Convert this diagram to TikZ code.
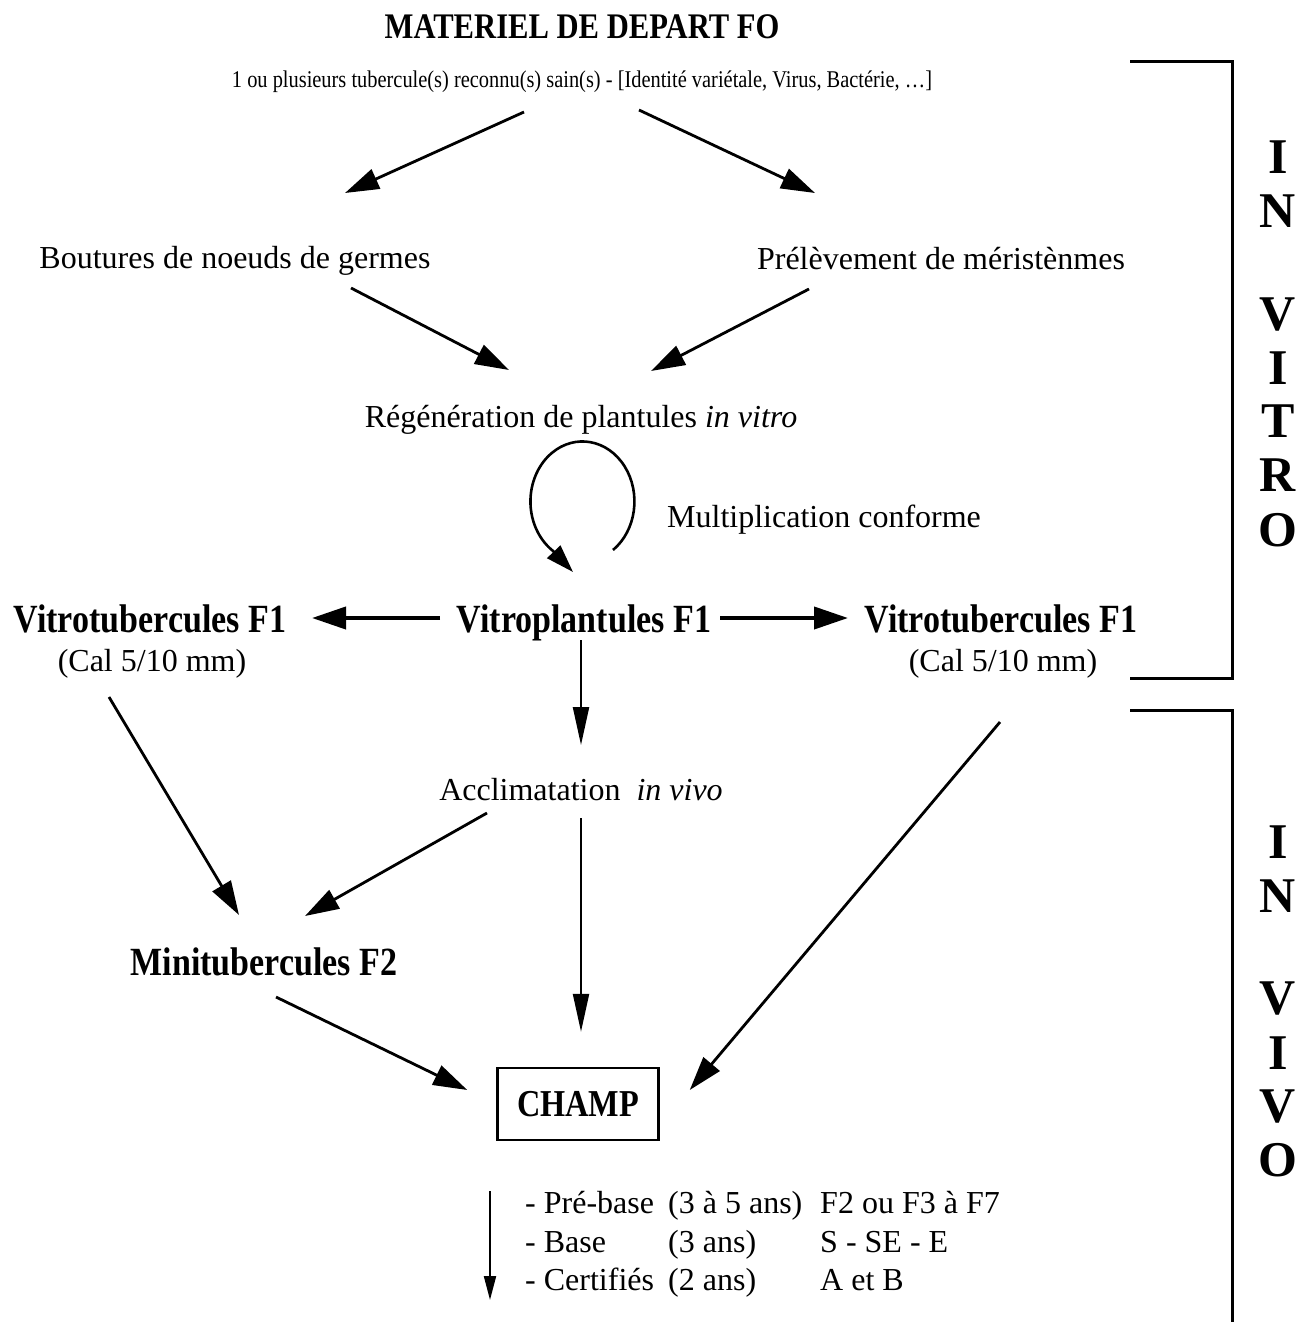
\documentclass[tikz,border=0pt]{standalone}
\usepackage{fontspec}
\setmainfont{Liberation Serif}
\newfontfamily\condfont{Liberation Serif}[FakeStretch=0.85]
\usetikzlibrary{
  arrows.meta,
  calc,
}

\tikzset{
  txt/.style={anchor=base, inner sep=0pt, font=\fontsize{32}{38}\selectfont},
  btxt/.style={anchor=base, inner sep=0pt, font=\condfont\bfseries\fontsize{40}{46}\selectfont},
  sidetxt/.style={inner sep=0pt, font=\bfseries\fontsize{50}{56}\selectfont},
  rowtxt/.style={anchor=base west, inner sep=0pt, font=\fontsize{32}{38}\selectfont},
  flow/.style={-{Triangle[length=34pt,width=21pt]}, line width=2.8pt},
  bigflow/.style={-{Triangle[length=34pt,width=22pt]}, line width=4pt},
  downflow/.style={-{Triangle[length=38pt,width=16pt]}, line width=2.2pt},
  bracket/.style={line width=3pt},
}

\begin{document}
\begin{tikzpicture}[x=1pt,y=-1pt]
\useasboundingbox (0,0) rectangle (1309,1322);

% texts
\node[btxt, font=\condfont\bfseries\fontsize{36}{42}\selectfont] (title) at (582,39) {MATERIEL DE DEPART FO};
\node[txt, font=\condfont\fontsize{24}{28}\selectfont] (sub) at (582,88)
  {1 ou plusieurs tubercule(s) reconnu(s) sain(s) - [Identité variétale, Virus, Bactérie, \dots]};
\node[txt] (bout) at (235,268) {Boutures de noeuds de germes};
\node[txt] (prel) at (941,269) {Prélèvement de méristènmes};
\node[txt] (regen) at (581,427) {Régénération de plantules \textit{in vitro}};
\node[txt] (multi) at (824,527) {Multiplication conforme};
\node[btxt] (vplant) at (584,632) {Vitroplantules F1};
\node[btxt] (vtubL) at (150,632) {Vitrotubercules F1};
\node[txt] (calL) at (152,671) {(Cal 5/10 mm)};
\node[btxt] (vtubR) at (1001,632) {Vitrotubercules F1};
\node[txt] (calR) at (1003,671) {(Cal 5/10 mm)};
\node[txt] (accl) at (581,800) {Acclimatation~ \textit{in vivo}};
\node[btxt] (mini) at (264,975) {Minitubercules F2};
\node[draw, line width=2.5pt, minimum width=161pt, minimum height=72pt,
  font=\condfont\bfseries\fontsize{38}{44}\selectfont] (champ) at (578,1104) {CHAMP};

% categories
\foreach \lab/\cat/\yr/\gen [count=\i] in {- Pré-base/(3 à 5 ans)/F2 ou F3 à F7/1213,
    - Base/(3 ans)/S - SE - E/1252, - Certifiés/(2 ans)/A et B/1290} {
  \node[rowtxt] (cat\i) at (525,\gen) {\lab};
  \node[rowtxt] (dur\i) at (668,\gen) {\cat};
  \node[rowtxt] (gen\i) at (820,\gen) {\yr};
}

% arrows
\draw[flow] ($(sub.base)+(-58,24)$) -- ($(bout.base)+(110,-75)$);
\draw[flow] ($(sub.base)+(57,22)$) -- ($(prel.base)+(-126,-76)$);
\draw[flow] ($(bout.base)+(116,20)$) -- ($(regen.base)+(-72,-57)$);
\draw[flow] ($(prel.base)+(-132,20)$) -- ($(regen.base)+(70,-56)$);
\draw[line width=2.6pt, -{Triangle[length=28pt,width=18pt]}]
  ($(regen.base)+(32,123)$) arc[start angle=54, end angle=-235, x radius=52, y radius=60]
  -- ($(vplant.base)+(-11,-60)$);
\draw[bigflow] ($(vplant.base)+(-144,-14)$) -- ($(vtubL.base)+(162,-14)$);
\draw[bigflow] ($(vplant.base)+(136,-14)$) -- ($(vtubR.base)+(-153,-14)$);
\draw[downflow] ($(vplant.base)+(-3,8)$) -- ($(accl.base)+(0,-55)$);
\draw[downflow] ($(accl.base)+(0,18)$) -- ($(champ.north)+(3,-35)$);
\draw[flow] ($(accl.base)+(-94,13)$) -- ($(mini.base)+(41,-59)$);
\draw[flow] ($(calL.base)+(-43,26)$) -- ($(mini.base)+(-25,-60)$);
\draw[flow] ($(mini.base)+(12,22)$) -- ($(champ.west)+(-29,-14)$);
\draw[flow] ($(calR.base)+(-3,51)$) -- ($(champ.east)+(30,-14)$);
\coordinate (fin) at (490,1300);
\draw[line width=2pt, -{Triangle[length=24pt,width=12pt]}] ($(champ.south)+(-88,50)$) -- (fin);

% in vitro / in vivo
\draw[bracket] (1130,62) -| (1232,678) -- (1130,678);
\draw[bracket] (1130,710) -| (1232,1322);
\foreach \l/\y [count=\i] in {I/157,N/211,V/315,I/368,T/421,R/475,O/530}
  \node[sidetxt] (vitro\i) at (1278,\y) {\l};
\foreach \l/\y [count=\i] in {I/842,N/896,V/998,I/1053,V/1106,O/1160}
  \node[sidetxt] (vivo\i) at (1278,\y) {\l};
\end{tikzpicture}
\end{document}
